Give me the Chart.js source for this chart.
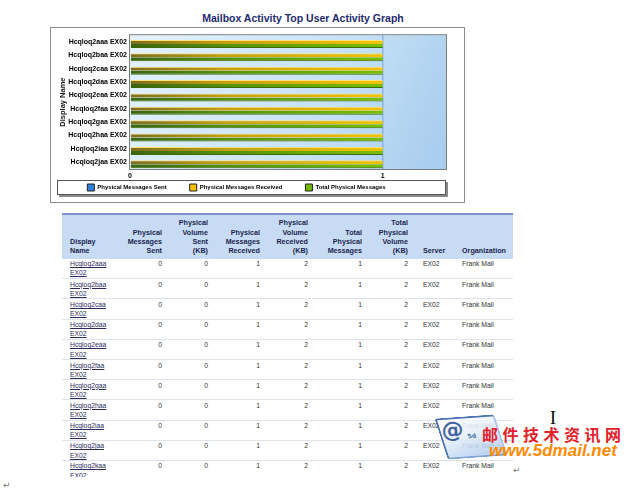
<!DOCTYPE html>
<html>
<head>
<meta charset="utf-8">
<script src="https://cdn.jsdelivr.net/npm/chart.js@4.4.0/dist/chart.umd.min.js"></script>
<style>
	body{margin:0;background:#fff;width:635px;height:492px;position:relative;overflow:hidden;font-family:"Liberation Sans",Arial,sans-serif}
	#title{position:absolute;left:0;top:12px;width:606px;text-align:center;font:bold 10.5px "Liberation Sans",Arial,sans-serif;color:#1e2a6e}
	#frame{position:absolute;left:50px;top:27px;width:413px;height:174px;border:1px solid #8c8c8c;background:#fff}
	#tbl{position:absolute;left:62px;top:213px;width:451px;height:264px;overflow:hidden}
	table{border-collapse:collapse;table-layout:fixed;width:451px;font-size:6.8px;color:#333}
	th{font-weight:bold;font-size:7.2px;color:#1a1f4e;background:#c7dbf4;border-top:2px solid #7b93c9;height:40.5px;vertical-align:bottom;padding:0 4px 3px 4px;line-height:9.3px;white-space:pre-line}
	td{vertical-align:top;padding:0.6px 4px 0 4px;line-height:9.3px;border-bottom:1px solid #dfe3ec}
	tr.row{height:20.2px}
	.r{text-align:right}
	.l{text-align:left}
	.c1{padding-left:8px}
	.c8{padding-left:11px}
	a{color:#2b2b5e;text-decoration:underline}
	.mark{position:absolute;color:#777;font:9px "DejaVu Sans",sans-serif}
	#cursor{position:absolute;left:550px;top:408px;font:18px "Liberation Serif",serif;color:#000}
	#logo{position:absolute;left:441px;top:416px;width:56px;height:38px;border:2.5px solid #3561a8;border-right-color:#9dbbe4;border-bottom-color:#6f97d2;border-radius:3px;
		background:linear-gradient(165deg,#ffffff 0%,#e4eefa 45%,#a9c8ec 100%);transform:rotate(-4deg) skewX(14deg);opacity:0.88}
	#logo span{position:absolute;left:1px;top:-2px;font:bold 22px "DejaVu Sans",sans-serif;color:#2a4f93;transform:skewX(-14deg)}
	#logo i{position:absolute;left:25px;top:14px;font:bold 6px "DejaVu Sans",sans-serif;color:#2a4f93;font-style:normal}
	#wm1{position:absolute;left:482px;top:422px;font:bold 16px "Noto Sans CJK SC",sans-serif;color:#e4202a;letter-spacing:4.5px}
	#wm2{position:absolute;left:489px;top:441px;font:italic bold 17px "Liberation Sans",Arial,sans-serif;color:#ff8a00}
</style>
</head>
<body>
<div id="title">Mailbox Activity Top User Activity Graph</div>
<div id="frame"><canvas id="chart" width="413" height="174"></canvas></div>
<div id="tbl"></div>
<div class="mark" style="left:3px;top:480px">↵</div>
<div class="mark" style="left:513px;top:465px">↵</div>
<div id="cursor">I</div>
<div id="logo"><span>@</span><i>5d</i></div>
<div id="wm1">邮件技术资讯网</div>
<div id="wm2">www.5dmail.net</div>

<script>
	// values
	var displayNames = ['Hcqloq2aaa EX02', 'Hcqloq2baa EX02', 'Hcqloq2caa EX02', 'Hcqloq2daa EX02',
		'Hcqloq2eaa EX02', 'Hcqloq2faa EX02', 'Hcqloq2gaa EX02', 'Hcqloq2haa EX02',
		'Hcqloq2iaa EX02', 'Hcqloq2jaa EX02', 'Hcqloq2kaa EX02'];
	var messagesSent     = [0, 0, 0, 0, 0, 0, 0, 0, 0, 0, 0];
	var volumeSent       = [0, 0, 0, 0, 0, 0, 0, 0, 0, 0, 0];
	var messagesReceived = [1, 1, 1, 1, 1, 1, 1, 1, 1, 1, 1];
	var volumeReceived   = [2, 2, 2, 2, 2, 2, 2, 2, 2, 2, 2];
	var totalMessages    = [1, 1, 1, 1, 1, 1, 1, 1, 1, 1, 1];
	var totalVolume      = [2, 2, 2, 2, 2, 2, 2, 2, 2, 2, 2];
	var servers = ['EX02', 'EX02', 'EX02', 'EX02', 'EX02', 'EX02', 'EX02', 'EX02', 'EX02', 'EX02', 'EX02'];
	var organizations = ['Frank Mail', 'Frank Mail', 'Frank Mail', 'Frank Mail', 'Frank Mail', 'Frank Mail',
		'Frank Mail', 'Frank Mail', 'Frank Mail', 'Frank Mail', 'Frank Mail'];
	var seriesNames = ['Physical Messages Sent', 'Physical Messages Received', 'Total Physical Messages'];
	var xTicks = [0, 1];
	var xMax = 1.25;
	var topCount = 10;
	var tableHeaders = ['Display\nName', 'Physical\nMessages\nSent', 'Physical\nVolume\nSent\n(KB)',
		'Physical\nMessages\nReceived', 'Physical\nVolume\nReceived\n(KB)', 'Total\nPhysical\nMessages',
		'Total\nPhysical\nVolume\n(KB)', 'Server', 'Organization'];

	var legendColors = ['#2f7fd8', '#f2c200', '#72b800'];
	var legendGap = 23, legendItemTop = 156, legendShift = 12;
	var colWidths = [56, 48, 46, 52, 48, 54, 46, 46, 55];
	var colAlign = ['l c1', 'r', 'r', 'r', 'r', 'r', 'r', 'l c8', 'l'];

	function barFill(stops){
		return function(c){
			var area = c.chart.chartArea;
			if(!area) return stops[stops.length - 1][1];
			var g = c.chart.ctx.createLinearGradient(area.left, 0, area.right, 0);
			stops.forEach(function(s){ g.addColorStop(s[0], s[1]); });
			return g;
		};
	}

	var reportDecor = {
		id : 'reportDecor',
		afterUpdate : function(chart){
			// pull the legend row up into its box and a little to the left
			var lg = chart.legend;
			var delta = (legendItemTop - legendGap) - lg.top;
			lg.top += delta;
			lg.left -= legendShift;
			lg.right -= legendShift;
			lg.legendHitBoxes.forEach(function(h){ h.top += delta; h.left -= legendShift; });
		},
		beforeDraw : function(chart){
			var c = chart.ctx, a = chart.chartArea;
			c.save();
			var g = c.createLinearGradient(a.left, a.top, a.right, a.bottom);
			g.addColorStop(0, '#e4f2fc');
			g.addColorStop(0.6, '#c6e2f6');
			g.addColorStop(1, '#a6cbee');
			c.fillStyle = g;
			c.fillRect(a.left, a.top, a.width, a.height);

			// boxed legend with a small drop shadow
			var hb = chart.legend.legendHitBoxes;
			if(hb && hb.length){
				var top = hb[0].top - 4, h = hb[0].height + 8;
				c.fillStyle = '#8a8a8a';
				c.fillRect(8, top + 2, 389, h);
				c.fillStyle = '#fff';
				c.fillRect(6, top, 389, h);
				c.strokeStyle = '#555';
				c.lineWidth = 1;
				c.strokeRect(6.5, top + 0.5, 388, h - 1);
			}
			c.restore();
		},
		afterDraw : function(chart){
			var c = chart.ctx, a = chart.chartArea;
			c.save();
			c.strokeStyle = '#7d7d7d';
			c.lineWidth = 1;
			c.strokeRect(a.left - 0.5, a.top - 0.5, a.width + 1, a.height + 1);
			c.restore();
		}
	};

	var ctx = document.getElementById('chart');
	var config = {
		type : 'bar',
		data : {
			labels : displayNames.slice(0, topCount),
			datasets : [ {
				label : seriesNames[0],
				data : messagesSent.slice(0, topCount),
				backgroundColor : legendColors[0],
				borderWidth : 0
			}, {
				label : seriesNames[1],
				data : messagesReceived.slice(0, topCount),
				backgroundColor : barFill([[0, '#7d6e1e'], [0.3, '#c4a010'], [0.8, '#f4c300']]),
				borderColor : '#ffe27a',
				borderWidth : {top : 1, left : 0, right : 0, bottom : 0},
				borderSkipped : false
			}, {
				label : seriesNames[2],
				data : totalMessages.slice(0, topCount),
				backgroundColor : barFill([[0, '#3a6412'], [0.3, '#55900e'], [0.8, '#78c000']]),
				borderColor : '#3c6a06',
				borderWidth : {top : 0, left : 0, right : 0, bottom : 1},
				borderSkipped : false
			} ]
		},
		options : {
			indexAxis : 'y',
			responsive : false,
			animation : false,
			layout : { padding : {top : 5, right : 18, bottom : 2, left : 0} },
			datasets : { bar : { categoryPercentage : 0.9, barPercentage : 1.0 } },
			scales : {
				x : {
					min : 0,
					max : xMax,
					afterBuildTicks : function(s){ s.ticks = xTicks.map(function(v){ return {value : v}; }); },
					afterFit : function(s){ s.height = 11; },
					border : { display : false },
					grid : {
						drawTicks : false,
						lineWidth : 1.5,
						color : function(c){ return c.tick && c.tick.value === 1 ? '#8db4e6' : 'rgba(0,0,0,0)'; }
					},
					ticks : { padding : 2.5, color : '#000', font : {family : 'Liberation Sans', size : 7, weight : 'bold'} }
				},
				y : {
					afterFit : function(s){ s.width = 79; },
					border : { display : false },
					grid : { display : false, drawTicks : false },
					ticks : { padding : 3, color : '#000', font : {family : 'Liberation Sans', size : 7, weight : 'bold'} },
					title : {
						display : true,
						text : 'Display Name',
						color : '#111',
						padding : {top : 7, bottom : 0},
						font : {family : 'Liberation Sans', size : 7.5, weight : 'bold'}
					}
				}
			},
			plugins : {
				tooltip : { enabled : false },
				legend : {
					position : 'bottom',
					maxHeight : 20,
					labels : {
						boxWidth : 7,
						boxHeight : 7,
						padding : legendGap,
						color : '#000',
						font : {family : 'Liberation Sans', size : 6, weight : 'bold'},
						generateLabels : function(chart){
							var items = Chart.defaults.plugins.legend.labels.generateLabels(chart);
							items.forEach(function(it, i){
								it.fillStyle = legendColors[i];
								it.strokeStyle = '#222';
								it.lineWidth = 1;
							});
							return items;
						}
					}
				}
			}
		},
		plugins : [reportDecor]
	};

	var myChart = new Chart(ctx, config);

	// detail table under the graph
	var html = '<table><colgroup>';
	colWidths.forEach(function(w){ html += '<col style="width:' + w + 'px">'; });
	html += '</colgroup><tr>';
	tableHeaders.forEach(function(h, i){ html += '<th class="' + colAlign[i] + '">' + h + '</th>'; });
	html += '</tr>';
	for(var i = 0; i < displayNames.length; i++){
		var cells = [
			'<a>' + displayNames[i].replace(' ', '<br>') + '</a>',
			messagesSent[i], volumeSent[i], messagesReceived[i], volumeReceived[i],
			totalMessages[i], totalVolume[i], servers[i], organizations[i]
		];
		html += '<tr class="row">';
		cells.forEach(function(v, j){ html += '<td class="' + colAlign[j] + '">' + v + '</td>'; });
		html += '</tr>';
	}
	html += '</table>';
	document.getElementById('tbl').innerHTML = html;
</script>
</body>
</html>
